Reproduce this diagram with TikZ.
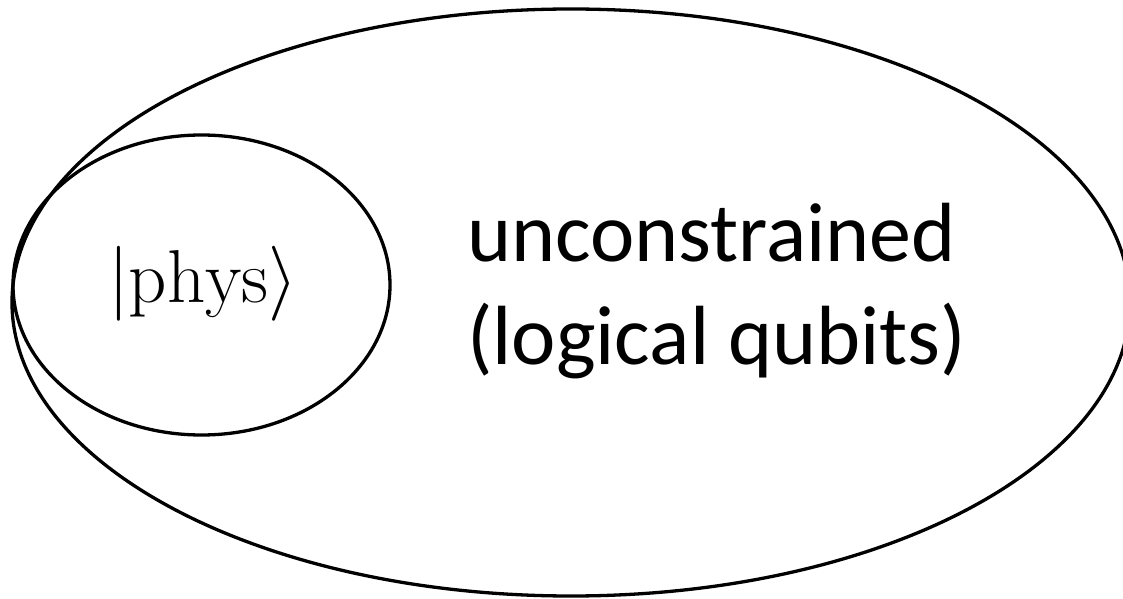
\documentclass[tikz,border=0pt]{standalone}
\usepackage{fontspec}
\usepackage{unicode-math}
\newfontfamily\labelfont{Carlito}
\begin{document}
\begin{tikzpicture}[x=1bp,y=-1bp,
  set/.style={draw=black,line width=3.3bp},
  kettext/.style={font=\fontsize{75bp}{80bp}\selectfont},
  regiontext/.style={font=\labelfont\fontsize{84bp}{102bp}\selectfont,
    anchor=base west,inner sep=0pt}]
\useasboundingbox (0,0) rectangle (1123,599);
\begin{scope}
\clip (0,0) rectangle (1123,599);
% outer set: all states
\draw[set] (571,302.5) ellipse [x radius=559, y radius=293.5];
% inner set: physical states
\draw[set] (201.5,285) ellipse [x radius=188.5, y radius=150];
\end{scope}
\node[kettext,anchor=base,inner sep=0pt] (phys) at (203,303) {$|\mathrm{phys}\rangle$};
\node[regiontext] (free1) at (467,262) {unconstrained};
\node[regiontext] (free2) at (467,364) {(logical qubits)};
\end{tikzpicture}
\end{document}
